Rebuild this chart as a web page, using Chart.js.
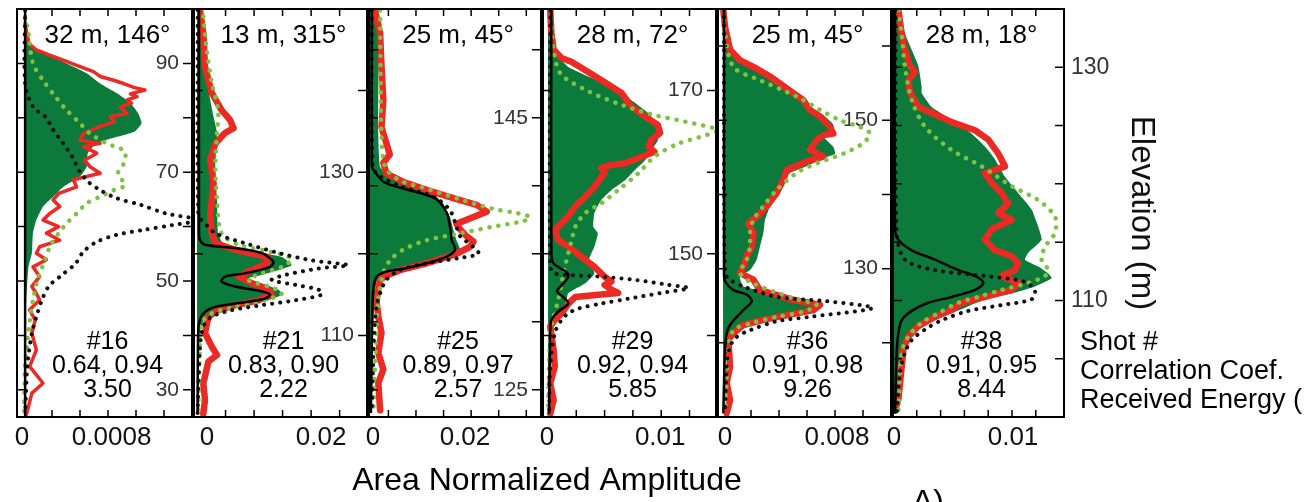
<!DOCTYPE html>
<html>
<head>
<meta charset="utf-8">
<script src="https://cdn.jsdelivr.net/npm/chart.js@4.4.1/dist/chart.umd.min.js"></script>
<style>
html, body { margin: 0; padding: 0; background: #fff; }
#wrap { position: relative; width: 1312px; height: 502px; overflow: hidden; }
#wrap canvas { position: absolute; left: 0; top: 0; }
</style>
</head>
<body>
<div id="wrap"></div>
<script>
// ---- panel 1 : shot #16 ----
const p1Title = '32 m, 146°';
const p1Notes = ['#16', '0.64, 0.94', '3.50'];
const p1XLabels = [0, 0.0008];
const p1XLabelText = ['0', '0.0008'];
const p1XTicks = [0.00025, 0.0005, 0.00075, 0.001, 0.00125];
const p1YLabels = [30, 50, 70, 90];
const p1YTicks = [30, 40, 50, 60, 70, 80, 90];
const p1FillElev = [98, 95.5, 93.1, 91.9, 90, 88.2, 86.3, 84.5, 82.7, 80.8, 79, 77.5, 76.5, 75.3, 73.5, 71, 69.2, 67.3, 65.5, 63.7, 61.2, 58.8, 55.1, 52.6, 46.5, 40.4, 25.4];
const p1FillAmp = [0.00001, 0.00004, 0.00007, 0.00017, 0.00038, 0.00056, 0.00068, 0.00083, 0.00095, 0.00102, 0.00105, 0.00099, 0.00083, 0.00065, 0.00057, 0.00056, 0.0005, 0.00035, 0.00026, 0.00017, 0.00011, 0.00008, 0.00007, 0.00004, 0.00002, 0.00001, 0];
const p1RedElev = [97.4, 93.7, 92.5, 91.5, 90.6, 89.4, 88.5, 87.6, 86.9, 86.3, 85.6, 85.1, 84.4, 83.9, 83.3, 82.7, 82.0, 80.8, 80.2, 79.3, 78.4, 77.1, 75.9, 75.3, 74.7, 73.5, 72.2, 71.0, 69.8, 68.6, 67.3, 66.1, 64.9, 63.7, 62.4, 61.2, 60.0, 58.8, 57.5, 56.3, 55.1, 53.9, 52.6, 50.8, 49.0, 47.7, 46.5, 44.7, 42.8, 40.4, 37.3, 34.3, 31.2, 29.4, 26.9, 25.4];
const p1RedAmp = [0.00001, 0.00004, 0.00011, 0.00023, 0.00035, 0.0005, 0.00062, 0.00068, 0.0008, 0.00089, 0.00098, 0.00108, 0.00095, 0.00101, 0.00092, 0.00096, 0.00086, 0.00092, 0.00077, 0.00081, 0.00068, 0.00053, 0.0005, 0.00068, 0.00053, 0.00065, 0.00054, 0.00059, 0.00068, 0.00044, 0.00047, 0.00031, 0.00026, 0.00032, 0.00023, 0.00017, 0.00031, 0.0002, 0.00032, 0.00014, 0.00011, 0.0002, 0.00008, 0.00014, 0.00007, 0.00011, 0.00014, 0.00005, 0.0001, 0.00007, 0.00011, 0.00005, 0.00017, 0.00007, 0.00004, 0.00002];
const p1GreenElev = [98.6, 95.5, 90.0, 86.9, 83.9, 81.4, 79.0, 77.1, 75.3, 73.8, 71.6, 69.8, 67.6, 66.7, 65.5, 64.3, 62.4, 60.6, 58.8, 56.3, 53.9, 50.8, 46.5, 40.4, 34.3, 25.7];
const p1GreenAmp = [0.00001, 0.00004, 0.00008, 0.00017, 0.00028, 0.00038, 0.0005, 0.00059, 0.00074, 0.0009, 0.00089, 0.00084, 0.0009, 0.0008, 0.00068, 0.00056, 0.00047, 0.00038, 0.00031, 0.00023, 0.00019, 0.00013, 0.00008, 0.00004, 0.00001, 0];
const p1DotElev = [99.8, 86.3, 82.0, 80.2, 77.8, 75.3, 72.9, 70.4, 68.3, 66.7, 65.2, 64.0, 62.4, 61.2, 60.3, 59.4, 58.5, 57.2, 55.4, 53.2, 50.8, 49.0, 46.5, 43.4, 40.4, 34.3, 25.4];
const p1DotAmp = [0.00001, 0.00001, 0.00008, 0.00019, 0.00026, 0.00035, 0.00043, 0.00049, 0.00057, 0.00068, 0.00083, 0.00104, 0.00127, 0.00157, 0.00133, 0.00107, 0.00083, 0.00065, 0.00053, 0.00046, 0.00032, 0.00022, 0.00016, 0.00011, 0.00007, 0.00003, 0.00001];
const p1BlackElev = [100, 62, 25];
const p1BlackAmp = [0.00001, 0.00001, 0.00001];

// ---- panel 2 : shot #21 ----
const p2Title = '13 m, 315°';
const p2Notes = ['#21', '0.83, 0.90', '2.22'];
const p2XLabels = [0, 0.02];
const p2XLabelText = ['0', '0.02'];
const p2XTicks = [0.005, 0.01, 0.015, 0.02, 0.025];
const p2YLabels = [110, 130];
const p2YTicks = [110, 120, 130, 140];
const p2FillElev = [149.9, 147.0, 142.9, 140.1, 136.8, 134.8, 130.7, 126.6, 122.5, 120.9, 120.3, 119.6, 118.6, 118.0, 117.4, 117.0, 116.4, 115.6, 115.0, 114.3, 113.7, 113.1, 112.3, 110.3, 106.2, 100.4];
const p2FillAmp = [0.0005, 0.0011, 0.0015, 0.002, 0.0029, 0.0035, 0.0032, 0.0035, 0.0037, 0.0049, 0.0096, 0.0149, 0.0166, 0.0143, 0.0113, 0.009, 0.0113, 0.0143, 0.0149, 0.0125, 0.0078, 0.0037, 0.0014, 0.0005, 0.0002, 0.0001];
const p2RedElev = [149.9, 147.0, 142.9, 139.7, 137.6, 136.4, 135.4, 134.8, 133.5, 131.5, 128.6, 126.6, 124.6, 122.5, 121.3, 120.5, 119.6, 118.8, 118.0, 117.2, 116.4, 115.6, 115.0, 114.3, 113.7, 113.1, 112.3, 110.3, 108.6, 107.6, 106.8, 104.1, 102.1, 100.4];
const p2RedAmp = [0.0005, 0.0011, 0.0014, 0.0026, 0.0043, 0.0058, 0.0064, 0.0049, 0.0032, 0.0023, 0.0029, 0.0026, 0.0023, 0.0026, 0.0032, 0.0067, 0.0125, 0.0122, 0.0096, 0.0073, 0.0096, 0.0125, 0.0131, 0.0108, 0.0067, 0.0037, 0.002, 0.0014, 0.0026, 0.0035, 0.002, 0.0011, 0.0014, 0.0011];
const p2GreenElev = [149.1, 145.0, 140.9, 137.6, 134.8, 130.7, 126.6, 122.5, 121.1, 120.3, 119.4, 118.4, 117.6, 116.8, 116.0, 115.2, 114.3, 113.5, 112.7, 111.5, 108.2, 100.4];
const p2GreenAmp = [0.0011, 0.0017, 0.0026, 0.0037, 0.0035, 0.0032, 0.0035, 0.0043, 0.0073, 0.0125, 0.0166, 0.0149, 0.0113, 0.009, 0.0125, 0.0149, 0.0119, 0.0067, 0.0026, 0.0008, 0.0005, 0.0002];
const p2DotElev = [149.9, 125.0, 124.1, 123.3, 122.5, 121.3, 120.1, 119.2, 118.6, 118.2, 117.4, 116.8, 116.2, 115.6, 115.0, 114.3, 113.7, 113.1, 112.3, 111.1, 108.2, 100.4];
const p2DotAmp = [0.0001, 0.0002, 0.0008, 0.002, 0.0032, 0.0084, 0.0143, 0.0201, 0.0265, 0.0213, 0.0154, 0.0131, 0.0172, 0.0213, 0.0219, 0.0172, 0.0113, 0.0061, 0.0026, 0.0011, 0.0005, 0.0001];
const p2BlackElev = [149.9, 122.5, 121.7, 121.1, 120.7, 120.1, 119.0, 118.4, 117.6, 117.2, 116.6, 116.0, 115.4, 115.0, 114.5, 113.9, 113.5, 112.9, 111.9, 110.3, 100.4];
const p2BlackAmp = [0.00035, 0.00035, 0.0005, 0.0014, 0.0067, 0.0113, 0.0134, 0.0128, 0.0084, 0.0049, 0.0043, 0.0067, 0.0113, 0.0128, 0.0119, 0.0067, 0.0032, 0.0014, 0.0005, 0.0002, 0.0001];

// ---- panel 3 : shot #25 ----
const p3Title = '25 m, 45°';
const p3Notes = ['#25', '0.89, 0.97', '2.57'];
const p3XLabels = [0, 0.02];
const p3XLabelText = ['0', '0.02'];
const p3XTicks = [0.004, 0.01, 0.016, 0.022, 0.028, 0.034];
const p3YLabels = [125, 145];
const p3YTicks = [125, 130, 135, 140, 145, 150];
const p3FillElev = [152.9, 143.9, 141.4, 140.7, 140.1, 139.4, 138.7, 137.7, 136.8, 136.0, 135.3, 134.8, 134.3, 133.9, 133.7, 133.3, 132.3, 129.2, 123.3];
const p3FillAmp = [0.0018, 0.0018, 0.0022, 0.0043, 0.0094, 0.0138, 0.0159, 0.0174, 0.0181, 0.0188, 0.0196, 0.0181, 0.0138, 0.0087, 0.0043, 0.0018, 0.0011, 0.0007, 0.0004];
const p3RedElev = [152.9, 151.2, 148.8, 146.3, 144.3, 142.3, 141.7, 140.9, 140.3, 139.7, 139.1, 138.6, 138.1, 137.6, 137.2, 136.8, 136.3, 135.9, 135.5, 135.0, 134.3, 133.8, 133.4, 133.1, 131.6, 130.4, 129.2, 127.7, 126.5, 125.5, 123.5];
const p3RedAmp = [0.0011, 0.0022, 0.0025, 0.0029, 0.0025, 0.0043, 0.0029, 0.0036, 0.0072, 0.0123, 0.0181, 0.0232, 0.0254, 0.0217, 0.0188, 0.0196, 0.021, 0.0225, 0.0217, 0.0188, 0.0123, 0.0065, 0.0036, 0.0022, 0.0014, 0.0018, 0.0025, 0.0018, 0.0029, 0.0018, 0.0022];
const p3GreenElev = [152.9, 148.8, 143.9, 141.4, 140.4, 139.8, 139.0, 138.3, 138.0, 137.7, 137.4, 137.0, 136.5, 136.0, 135.3, 134.5, 133.6, 131.6, 126.7, 123.3];
const p3GreenAmp = [0.0022, 0.0023, 0.0025, 0.0033, 0.0065, 0.0123, 0.0196, 0.0268, 0.0319, 0.0348, 0.0333, 0.0268, 0.0196, 0.0123, 0.0072, 0.0043, 0.0029, 0.0018, 0.0011, 0.0007];
const p3DotElev = [152.9, 141.4, 140.7, 139.9, 139.2, 138.2, 137.0, 136.3, 135.5, 135.0, 134.7, 134.3, 133.8, 133.1, 132.1, 131.1, 129.2, 123.3];
const p3DotAmp = [0.0004, 0.0006, 0.0022, 0.0072, 0.0138, 0.0174, 0.0188, 0.0196, 0.0225, 0.0236, 0.0196, 0.0123, 0.0065, 0.0036, 0.0022, 0.0014, 0.0009, 0.0004];
const p3BlackElev = [152.9, 141.4, 141.2, 140.3, 139.8, 139.4, 139.0, 138.0, 137.0, 136.0, 135.3, 134.8, 134.3, 133.9, 133.7, 133.3, 132.3, 129.2, 123.3];
const p3BlackAmp = [0.0004, 0.0004, 0.0007, 0.0029, 0.0072, 0.0116, 0.0145, 0.0167, 0.0174, 0.0178, 0.0185, 0.0167, 0.0123, 0.0072, 0.0036, 0.0014, 0.0007, 0.0004, 0.0002];

// ---- panel 4 : shot #29 ----
const p4Title = '28 m, 72°';
const p4Notes = ['#29', '0.92, 0.94', '5.85'];
const p4XLabels = [0, 0.01];
const p4XLabelText = ['0', '0.01'];
const p4XTicks = [0.0025, 0.005, 0.0075, 0.01, 0.0125];
const p4YLabels = [150, 170];
const p4YTicks = [140, 150, 160, 170];
const p4FillElev = [179.9, 176.6, 174.2, 172.9, 171.7, 170.5, 168.8, 167.2, 165.6, 163.9, 162.7, 161.5, 160.3, 159.0, 157.8, 156.6, 155.0, 153.3, 152.5, 150.9, 149.2, 147.6, 146.4, 145.2, 144.3, 143.1, 142.3, 141.1, 130.4];
const p4FillAmp = [0.0002, 0.0005, 0.0009, 0.0018, 0.0036, 0.0056, 0.0074, 0.0089, 0.0097, 0.0097, 0.0091, 0.0086, 0.0077, 0.0068, 0.0056, 0.0047, 0.0041, 0.004, 0.0044, 0.0041, 0.0036, 0.0041, 0.0033, 0.0018, 0.0016, 0.0012, 0.0006, 0.0002, 0];
const p4RedElev = [179.9, 177.0, 175.0, 174.0, 173.5, 172.5, 171.3, 169.7, 168.0, 166.8, 165.8, 164.8, 163.9, 163.1, 162.5, 161.9, 161.1, 160.9, 160.5, 159.9, 158.2, 157.0, 155.8, 154.6, 152.9, 151.7, 150.9, 149.6, 148.4, 147.2, 146.6, 146.2, 145.6, 145.2, 145.0, 144.7, 143.9, 142.7, 141.9, 141.1, 138.2, 136.2, 134.1, 132.1, 130.4];
const p4RedAmp = [0.0002, 0.0003, 0.0005, 0.0012, 0.0021, 0.0033, 0.0047, 0.0065, 0.0074, 0.0086, 0.0097, 0.0099, 0.0091, 0.0089, 0.0094, 0.0083, 0.0068, 0.0056, 0.0047, 0.005, 0.0041, 0.0033, 0.0024, 0.0018, 0.0006, 0.0009, 0.0018, 0.003, 0.0041, 0.005, 0.0056, 0.005, 0.0056, 0.0062, 0.0047, 0.0024, 0.0018, 0.0012, 0.0006, 0.0002, 0.0005, 0.0006, 0.0002, 0.0005, 0.0002];
const p4GreenElev = [179.9, 175.0, 172.1, 170.1, 168.4, 167.0, 166.2, 165.2, 164.6, 163.5, 161.9, 159.9, 157.8, 156.2, 155.0, 153.3, 151.7, 150.1, 148.4, 146.4, 144.3, 142.3, 140.3, 130.4];
const p4GreenAmp = [0.0002, 0.0005, 0.0011, 0.0033, 0.0062, 0.0094, 0.0121, 0.015, 0.0141, 0.0115, 0.0094, 0.008, 0.0062, 0.0047, 0.0033, 0.0024, 0.0021, 0.0018, 0.0015, 0.0012, 0.0009, 0.0005, 0.0002, 0];
const p4DotElev = [179.9, 148.4, 147.6, 147.4, 147.2, 146.8, 146.2, 145.8, 145.2, 144.5, 143.9, 143.3, 142.7, 141.9, 140.3, 136.2, 130.4];
const p4DotAmp = [0.0002, 0.0002, 0.0006, 0.0018, 0.0047, 0.0077, 0.0106, 0.0124, 0.01, 0.0071, 0.0047, 0.0027, 0.0018, 0.0012, 0.0006, 0.0002, 0.0001];
const p4BlackElev = [179.9, 150.1, 148.8, 147.8, 147.2, 146.0, 145.4, 144.5, 143.9, 142.9, 141.9, 140.3, 130.4];
const p4BlackAmp = [0.0003, 0.0003, 0.0005, 0.0016, 0.0018, 0.0011, 0.0008, 0.0015, 0.0018, 0.0009, 0.0003, 0.0002, 0.0001];

// ---- panel 5 : shot #36 ----
const p5Title = '25 m, 45°';
const p5Notes = ['#36', '0.91, 0.98', '9.26'];
const p5XLabels = [0, 0.008];
const p5XLabelText = ['0', '0.008'];
const p5XTicks = [0.002, 0.004, 0.006, 0.008, 0.01];
const p5YLabels = [130, 150];
const p5YTicks = [120, 130, 140, 150, 160];
const p5FillElev = [164.9, 161.7, 159.5, 158.1, 157.2, 155.4, 153.6, 151.8, 150.7, 149.4, 148.2, 147.8, 146.4, 145.5, 144.9, 143.8, 142.9, 141.5, 140.2, 138.4, 136.6, 134.8, 133.0, 131.2, 129.8, 128.9, 127.6, 126.7, 125.8, 125.1, 124.4, 123.8, 123.1, 122.4, 121.7, 120.8, 116.8, 110.5];
const p5FillAmp = [0.00002, 0.00014, 0.0005, 0.00121, 0.00217, 0.00383, 0.00526, 0.00621, 0.00717, 0.00788, 0.00788, 0.00717, 0.00788, 0.008, 0.00717, 0.00598, 0.00479, 0.00407, 0.00383, 0.00336, 0.003, 0.00288, 0.00264, 0.0024, 0.00193, 0.00121, 0.00145, 0.00383, 0.00574, 0.00693, 0.00621, 0.00455, 0.00264, 0.00145, 0.00074, 0.00026, 0.00014, 0.00002];
const p5RedElev = [164.9, 162.6, 159.5, 158.1, 157.2, 155.9, 154.3, 152.7, 151.4, 150.5, 149.1, 148.2, 148.0, 147.3, 146.0, 145.1, 144.6, 143.3, 142.0, 140.2, 138.4, 137.0, 136.1, 134.8, 133.0, 131.6, 130.3, 129.4, 128.5, 127.1, 125.8, 125.1, 124.4, 123.8, 123.1, 122.4, 121.3, 120.4, 116.8, 114.6, 112.3, 110.5];
const p5RedAmp = [0.00002, 0.00014, 0.0005, 0.00121, 0.00217, 0.00336, 0.00455, 0.00574, 0.00621, 0.00693, 0.00764, 0.00788, 0.00717, 0.00669, 0.00621, 0.00717, 0.00621, 0.00455, 0.00431, 0.00383, 0.00312, 0.0024, 0.00181, 0.00217, 0.00205, 0.00169, 0.00145, 0.00121, 0.00217, 0.00264, 0.00502, 0.00693, 0.00645, 0.00479, 0.00288, 0.00145, 0.00074, 0.00038, 0.0005, 0.00026, 0.0005, 0.00026];
const p5GreenElev = [164.9, 161.7, 157.2, 155.4, 153.2, 151.4, 150.0, 149.1, 148.2, 146.9, 145.5, 144.2, 142.9, 140.6, 138.4, 136.6, 134.8, 133.0, 131.2, 129.4, 128.0, 126.0, 125.1, 124.2, 123.5, 122.6, 121.7, 119.0, 110.5];
const p5GreenAmp = [0.00002, 0.00014, 0.00074, 0.00264, 0.00526, 0.00693, 0.00836, 0.00979, 0.0105, 0.01, 0.0086, 0.00669, 0.00526, 0.00383, 0.00288, 0.00217, 0.00193, 0.00193, 0.00169, 0.00121, 0.00217, 0.00502, 0.00669, 0.00574, 0.00383, 0.00193, 0.00074, 0.00038, 0.00014];
const p5DotElev = [164.9, 129.4, 128.5, 127.6, 126.2, 125.6, 124.7, 123.5, 122.9, 121.7, 120.8, 119.5, 116.8, 110.5];
const p5DotAmp = [0.00007, 0.00014, 0.0005, 0.00145, 0.00383, 0.0074, 0.0107, 0.00621, 0.00383, 0.00193, 0.00098, 0.0005, 0.00026, 0.00014];
const p5BlackElev = [164.9, 129.4, 128.3, 127.1, 126.5, 125.6, 124.4, 123.5, 122.4, 121.3, 119.0, 110.5];
const p5BlackAmp = [0.00007, 0.00007, 0.00014, 0.00074, 0.00169, 0.00205, 0.00145, 0.00098, 0.0005, 0.00026, 0.00014, 0.00002];

// ---- panel 6 : shot #38 ----
const p6Title = '28 m, 18°';
const p6Notes = ['#38', '0.91, 0.95', '8.44'];
const p6XLabels = [0, 0.01];
const p6XLabelText = ['0', '0.01'];
const p6XTicks = [0.002, 0.004, 0.006, 0.008, 0.01, 0.012];
const p6YLabels = [110, 130];
const p6YTicks = [105, 110, 115, 120, 125, 130];
const p6FillElev = [134.9, 132.9, 131.5, 130.1, 128.3, 127.8, 126.6, 125.5, 124.3, 123.2, 122.1, 120.6, 119.2, 117.8, 116.3, 115.2, 114.1, 113.5, 112.9, 112.3, 111.9, 111.2, 110.6, 110.1, 109.5, 108.9, 108.3, 107.5, 106.6, 105.5, 104.3, 100.3];
const p6FillAmp = [0.00045, 0.001, 0.00157, 0.00213, 0.00241, 0.00241, 0.00325, 0.00493, 0.00661, 0.00773, 0.00857, 0.00941, 0.01053, 0.01165, 0.01221, 0.01249, 0.01137, 0.01109, 0.01221, 0.01305, 0.01333, 0.01193, 0.00997, 0.00773, 0.00633, 0.00493, 0.00353, 0.00213, 0.00129, 0.00073, 0.00045, 0.00031];
const p6RedElev = [134.9, 132.9, 131.5, 130.1, 129.6, 128.9, 127.8, 126.6, 126.1, 125.3, 124.6, 123.8, 122.6, 121.5, 120.9, 120.1, 119.2, 118.3, 117.5, 116.9, 116.1, 115.2, 114.3, 113.8, 113.2, 112.6, 112.1, 111.5, 110.9, 110.3, 109.8, 109.2, 108.6, 107.8, 106.9, 105.8, 104.3, 102.9, 101.5, 100.6];
const p6RedAmp = [0.00045, 0.00073, 0.001, 0.00143, 0.00185, 0.00129, 0.00143, 0.00213, 0.00325, 0.00493, 0.00689, 0.00801, 0.00885, 0.00941, 0.00773, 0.00829, 0.00913, 0.00969, 0.00885, 0.00997, 0.00829, 0.00773, 0.00857, 0.00997, 0.01053, 0.01025, 0.00913, 0.01053, 0.00997, 0.00773, 0.00577, 0.00493, 0.00353, 0.00213, 0.00129, 0.00087, 0.00073, 0.00059, 0.00045, 0.00017];
const p6GreenElev = [134.9, 132.9, 130.1, 127.2, 124.9, 122.9, 121.5, 119.8, 118.6, 117.2, 115.8, 114.6, 113.5, 112.6, 112.1, 111.5, 110.9, 110.3, 109.8, 108.9, 108.1, 106.9, 105.5, 100.3];
const p6GreenAmp = [0.00045, 0.00073, 0.001, 0.00157, 0.00269, 0.00493, 0.00745, 0.00997, 0.01221, 0.01361, 0.01361, 0.01277, 0.01249, 0.01305, 0.01277, 0.01137, 0.00913, 0.00717, 0.00549, 0.00381, 0.00241, 0.00129, 0.00073, 0.00045];
const p6DotElev = [134.9, 115.8, 113.5, 112.6, 112.1, 111.6, 110.8, 110.1, 109.6, 109.1, 108.3, 107.5, 106.6, 105.5, 103.8, 100.3];
const p6DotAmp = [0.00022, 0.00031, 0.001, 0.00353, 0.00773, 0.01109, 0.01193, 0.01165, 0.00913, 0.00633, 0.00409, 0.00269, 0.00157, 0.001, 0.00059, 0.00031];
const p6BlackElev = [134.9, 116.1, 115.2, 114.3, 113.5, 112.6, 112.1, 111.5, 110.9, 110.3, 109.8, 109.1, 108.3, 107.2, 105.5, 100.3];
const p6BlackAmp = [0.00017, 0.00017, 0.00045, 0.00157, 0.00353, 0.00549, 0.00689, 0.00759, 0.00689, 0.00493, 0.00297, 0.00157, 0.00073, 0.00045, 0.00031, 0.00017];

const rowLabels = ['Shot #', 'Correlation Coef.', 'Received Energy ('];
const xTitle = 'Area Normalized Amplitude';
const yTitle = 'Elevation (m)';

const FONT = "'Liberation Sans', Arial, sans-serif";
const RED = '#ec2a24';
const DARK_GREEN = '#0b7a3a';
const LIGHT_GREEN = '#7dc243';
Chart.defaults.font.family = FONT;

function profile(elev, amp) {
    return elev.map((e, i) => ({ x: amp[i], y: e }));
}

function area(elev, amp) {
    // close the profile back to zero amplitude at both ends
    return [{ x: 0, y: elev[0] }].concat(profile(elev, amp), [{ x: 0, y: elev[elev.length - 1] }]);
}

const panels = [
    { left: 17, right: 192, xMin: -0.0000625, xMax: 0.0015, yMin: 25, yMax: 100, labelOffset: -2, redWidth: 3.5,
      title: p1Title, notes: p1Notes, xLabels: p1XLabels, xLabelText: p1XLabelText, xTicks: p1XTicks, yLabels: p1YLabels, yTicks: p1YTicks,
      fill: [p1FillElev, p1FillAmp], red: [p1RedElev, p1RedAmp], green: [p1GreenElev, p1GreenAmp], dot: [p1DotElev, p1DotAmp], black: [p1BlackElev, p1BlackAmp] },
    { left: 194, right: 367, xMin: -0.00053, xMax: 0.0298, yMin: 100, yMax: 150, labelOffset: 10, redWidth: 6.5,
      title: p2Title, notes: p2Notes, xLabels: p2XLabels, xLabelText: p2XLabelText, xTicks: p2XTicks, yLabels: p2YLabels, yTicks: p2YTicks,
      fill: [p2FillElev, p2FillAmp], red: [p2RedElev, p2RedAmp], green: [p2GreenElev, p2GreenAmp], dot: [p2DotElev, p2DotAmp], black: [p2BlackElev, p2BlackAmp] },
    { left: 369, right: 541, xMin: -0.00022, xMax: 0.0372, yMin: 123, yMax: 153, labelOffset: 3, redWidth: 6.5,
      title: p3Title, notes: p3Notes, xLabels: p3XLabels, xLabelText: p3XLabelText, xTicks: p3XTicks, yLabels: p3YLabels, yTicks: p3YTicks,
      fill: [p3FillElev, p3FillAmp], red: [p3RedElev, p3RedAmp], green: [p3GreenElev, p3GreenAmp], dot: [p3DotElev, p3DotAmp], black: [p3BlackElev, p3BlackAmp] },
    { left: 543, right: 716, xMin: -0.00044, xMax: 0.01484, yMin: 130, yMax: 180, labelOffset: -1, redWidth: 6.5,
      title: p4Title, notes: p4Notes, xLabels: p4XLabels, xLabelText: p4XLabelText, xTicks: p4XTicks, yLabels: p4YLabels, yTicks: p4YTicks,
      fill: [p4FillElev, p4FillAmp], red: [p4RedElev, p4RedAmp], green: [p4GreenElev, p4GreenAmp], dot: [p4DotElev, p4DotAmp], black: [p4BlackElev, p4BlackAmp] },
    { left: 718, right: 891, xMin: -0.00036, xMax: 0.012, yMin: 110, yMax: 165, labelOffset: 2, redWidth: 6.5,
      title: p5Title, notes: p5Notes, xLabels: p5XLabels, xLabelText: p5XLabelText, xTicks: p5XTicks, yLabels: p5YLabels, yTicks: p5YTicks,
      fill: [p5FillElev, p5FillAmp], red: [p5RedElev, p5RedAmp], green: [p5GreenElev, p5GreenAmp], dot: [p5DotElev, p5DotAmp], black: [p5BlackElev, p5BlackAmp] },
    { left: 893, right: 1064, xMin: 0, xMax: 0.01437, yMin: 100, yMax: 135, labelOffset: 1, redWidth: 6.5, outer: true,
      title: p6Title, notes: p6Notes, xLabels: p6XLabels, xLabelText: p6XLabelText, xTicks: p6XTicks, yLabels: p6YLabels, yTicks: p6YTicks,
      fill: [p6FillElev, p6FillAmp], red: [p6RedElev, p6RedAmp], green: [p6GreenElev, p6GreenAmp], dot: [p6DotElev, p6DotAmp], black: [p6BlackElev, p6BlackAmp] }
];

// frame, inward tick marks and the text inside each panel
function makeDecor(panel) {
    return {
        id: 'panelDecor',
        afterDatasetsDraw(chart) {
            const ctx = chart.ctx;
            const a = chart.chartArea;
            const xs = chart.scales.x, ys = chart.scales.y;
            ctx.save();
            ctx.strokeStyle = '#000';
            ctx.lineWidth = 2;
            ctx.strokeRect(a.left, a.top, a.right - a.left, a.bottom - a.top);
            ctx.lineWidth = 1.5;
            ctx.beginPath();
            panel.xTicks.forEach(v => {
                const px = xs.getPixelForValue(v);
                ctx.moveTo(px, a.bottom); ctx.lineTo(px, a.bottom - 7);
                ctx.moveTo(px, a.top); ctx.lineTo(px, a.top + 7);
            });
            panel.yTicks.forEach(v => {
                const py = ys.getPixelForValue(v);
                ctx.moveTo(a.left, py); ctx.lineTo(a.left + 9, py);
                ctx.moveTo(a.right, py); ctx.lineTo(a.right - 9, py);
            });
            ctx.stroke();

            const cx = (a.left + a.right) / 2 + 3;
            ctx.fillStyle = '#000';
            ctx.textAlign = 'center';
            ctx.textBaseline = 'middle';
            ctx.font = '26px ' + FONT;
            ctx.fillText(panel.title, cx, a.top + 27);
            ctx.font = '25px ' + FONT;
            panel.notes.forEach((t, i) => ctx.fillText(t, cx, a.bottom - 75 + i * 24));

            if (panel.outer) {
                ctx.textAlign = 'left';
                ctx.font = '27px ' + FONT;
                rowLabels.forEach((t, i) => ctx.fillText(t, 1080, 343 + i * 29));
                ctx.textAlign = 'center';
                ctx.font = '32px ' + FONT;
                ctx.fillText(xTitle, 547, 481);
                ctx.textAlign = 'left';
                ctx.textBaseline = 'alphabetic';
                ctx.fillText('A)', 912, 512);
            }
            ctx.restore();
        }
    };
}

const wrap = document.getElementById('wrap');

panels.forEach(panel => {
    const canvas = document.createElement('canvas');
    canvas.width = 1312;
    canvas.height = 502;
    wrap.appendChild(canvas);

    const yWidth = panel.outer ? 97 : 0;
    const datasets = [
        { data: profile(panel.black[0], panel.black[1]), borderColor: '#000', borderWidth: 2.5, tension: 0.3 },
        { data: profile(panel.dot[0], panel.dot[1]), borderColor: '#111', borderWidth: 4, borderDash: [0.1, 8],
          borderCapStyle: 'round', tension: 0.3 },
        { data: profile(panel.green[0], panel.green[1]), borderColor: LIGHT_GREEN, borderWidth: 4.5, borderDash: [0.1, 9],
          borderCapStyle: 'round', tension: 0.3 },
        { data: profile(panel.red[0], panel.red[1]), borderColor: RED, borderWidth: panel.redWidth,
          borderJoinStyle: 'round', borderCapStyle: 'round', tension: 0 },
        { data: area(panel.fill[0], panel.fill[1]), borderColor: DARK_GREEN, borderWidth: 0,
          backgroundColor: DARK_GREEN, fill: 'shape', tension: 0.15 }
    ];
    datasets.forEach(d => { d.showLine = true; d.pointRadius = 0; });

    // inner panels: labels sit inside, left of the right frame; last panel: labels outside
    const yAxis = {
        type: 'linear', position: 'right', min: panel.yMin, max: panel.yMax, z: 1,
        grid: { display: false, drawTicks: false }, border: { display: false },
        ticks: { mirror: !panel.outer, padding: panel.outer ? 7 : -13, color: '#333',
                 font: { size: panel.outer ? 23 : 21, lineHeight: 0.1 } },
        afterBuildTicks: ax => { ax.ticks = panel.yLabels.map(v => ({ value: v })); },
        afterFit: ax => { ax.width = yWidth; }
    };
    if (panel.outer) {
        yAxis.title = { display: true, text: yTitle, color: '#111', font: { size: 33 }, padding: 0 };
    }

    new Chart(canvas, {
        type: 'scatter',
        data: { datasets: datasets },
        options: {
            responsive: false,
            animation: false,
            devicePixelRatio: 1,
            events: [],
            layout: { padding: { left: panel.left, right: 1312 - panel.right - yWidth, top: 9, bottom: 45 } },
            plugins: { legend: { display: false }, tooltip: { enabled: false } },
            scales: {
                x: {
                    type: 'linear', position: 'bottom', min: panel.xMin, max: panel.xMax,
                    grid: { display: false, drawTicks: false }, border: { display: false },
                    ticks: { padding: 5, color: '#111', font: { size: 26 }, maxRotation: 0, autoSkip: false,
                             labelOffset: panel.labelOffset, callback: (v, i) => panel.xLabelText[i] },
                    afterBuildTicks: ax => { ax.ticks = panel.xLabels.map(v => ({ value: v })); },
                    afterFit: ax => { ax.height = 40; }
                },
                y: yAxis
            }
        },
        plugins: [makeDecor(panel)]
    });
});
</script>
</body>
</html>
